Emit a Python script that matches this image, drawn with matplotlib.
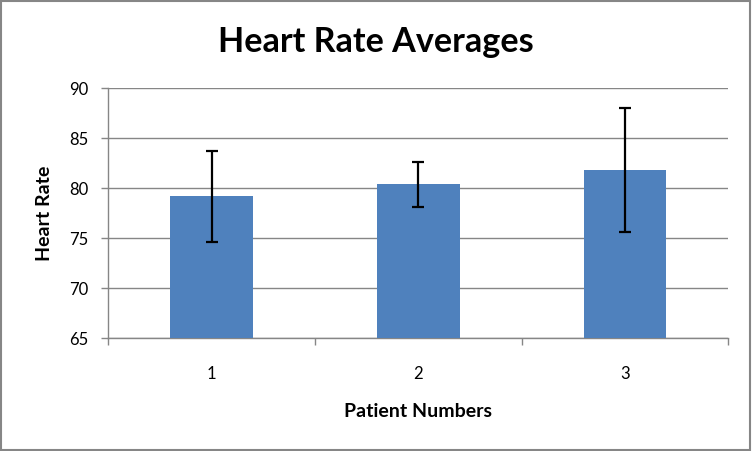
import matplotlib.pyplot as plt
from matplotlib.patches import Rectangle

# data
patients = ['1', '2', '3']
averages = [79.2, 80.4, 81.8]
errors = [4.55, 2.25, 6.2]

plt.rcParams['font.family'] = ['Lato', 'DejaVu Sans']

bar_color = '#4F81BD'
grid_color = '#868686'

fig = plt.figure(figsize=(7.52, 4.51), dpi=100)
ax = fig.add_axes([108.3 / 752, 112.7 / 451, 620 / 752, 250 / 451])

x = range(len(patients))
ax.bar(x, averages, width=0.4, color=bar_color, zorder=3,
       yerr=errors, error_kw=dict(ecolor='black', elinewidth=1.6, capsize=4, capthick=1.6, zorder=4))

ax.set_ylim(65, 90)
ax.set_yticks(range(65, 91, 5))
ax.set_xlim(-0.5, len(patients) - 0.5)
ax.set_xticks(list(x))
ax.set_xticklabels(patients)
# category boundary ticks
ax.set_xticks([i - 0.5 for i in range(len(patients) + 1)], minor=True)
ax.tick_params(axis='x', which='major', length=0, pad=20, labelsize=12)
ax.tick_params(axis='x', which='minor', length=5, width=1, color=grid_color, direction='out')
ax.tick_params(axis='y', length=5, width=1, color=grid_color, pad=9, labelsize=12)

ax.yaxis.grid(True, color=grid_color, linewidth=1, zorder=0)
for s in ['top', 'right']:
    ax.spines[s].set_visible(False)
for s in ['left', 'bottom']:
    ax.spines[s].set_color(grid_color)
    ax.spines[s].set_linewidth(1)

ax.set_ylabel('Heart Rate', fontsize=14, fontweight='bold', labelpad=12)
ax.set_xlabel('Patient Numbers', fontsize=14, fontweight='bold', labelpad=15)
fig.text(0.5, 1 - 42 / 451, 'Heart Rate Averages', ha='center', va='center',
         fontsize=24.6, fontweight='bold')

# outer chart border
fig.patches.append(Rectangle((0.001, 0.002), 0.997, 0.995, transform=fig.transFigure,
                             fill=False, edgecolor=grid_color, linewidth=1.5))

fig.savefig('out.png', dpi=100)
